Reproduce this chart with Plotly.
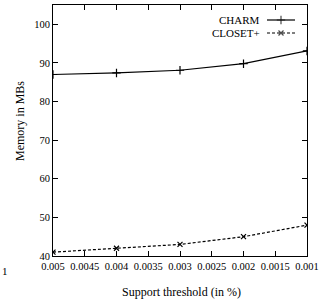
import plotly.graph_objects as go

support = [0.005, 0.004, 0.003, 0.002, 0.001]
charm = [87.0, 87.4, 88.1, 89.8, 93.1]
closet = [41.0, 42.0, 43.0, 45.0, 48.0]
x_ticks = [0.005, 0.0045, 0.004, 0.0035, 0.003, 0.0025, 0.002, 0.0015, 0.001]
x_ticktext = ["0.005", "0.0045", "0.004", "0.0035", "0.003", "0.0025", "0.002", "0.0015", "0.001"]
y_ticks = [40, 50, 60, 70, 80, 90, 100]

FONT = "Liberation Serif"
W, H = 334, 303
L, R, T, B = 53, 27, 5, 47
pw, ph = W - L - R, H - T - B

def px(x):
    return (x - L) / pw

def py(y):
    return 1 - (y - T) / ph

fig = go.Figure()
fig.add_trace(go.Scatter(x=support, y=charm, mode="lines+markers", name="CHARM",
                         line=dict(color="black", width=1.2),
                         marker=dict(symbol="cross-thin", size=6, line=dict(color="black", width=1.2)),
                         showlegend=False))
fig.add_trace(go.Scatter(x=support, y=closet, mode="lines+markers", name="CLOSET+",
                         line=dict(color="black", width=1.2, dash="3px,2px"),
                         marker=dict(symbol="x-thin", size=5, line=dict(color="black", width=1.2)),
                         showlegend=False))

# custom legend samples (symbol right of text) on an overlay axis
legend_items = [("CHARM", "solid", "cross-thin", 6, 20), ("CLOSET+", "3px,2px", "x-thin", 5, 33)]
for name, dash, sym, sz, ypix in legend_items:
    fig.add_trace(go.Scatter(x=[px(267), px(281), px(295)], y=[py(ypix)] * 3,
                             xaxis="x2", yaxis="y2", mode="lines+markers",
                             line=dict(color="black", width=1.2, dash=dash),
                             marker=dict(symbol=sym, size=[0, sz, 0], line=dict(color="black", width=1.2)),
                             showlegend=False, hoverinfo="skip"))
    fig.add_annotation(x=px(262), y=py(ypix), xref="paper", yref="paper", text=name,
                       showarrow=False, xanchor="right", yanchor="middle",
                       font=dict(family=FONT, size=11, color="black"))

fig.add_annotation(x=px(20), y=py(121), xref="paper", yref="paper", text="Memory in MBs",
                   textangle=-90, showarrow=False, xanchor="center", yanchor="middle",
                   font=dict(family=FONT, size=12, color="black"))
fig.add_annotation(x=px(181), y=py(292), xref="paper", yref="paper", text="Support threshold (in %)",
                   showarrow=False, xanchor="center", yanchor="middle",
                   font=dict(family=FONT, size=12, color="black"))
fig.add_annotation(x=px(0), y=py(271), xref="paper", yref="paper", text="1",
                   showarrow=False, xanchor="left", yanchor="middle",
                   font=dict(family=FONT, size=11, color="black"))

axis_common = dict(showgrid=False, zeroline=False, showline=True, linecolor="black", linewidth=1,
                   mirror="ticks", ticks="inside", ticklen=5, tickcolor="black", tickwidth=1,
                   tickfont=dict(family=FONT, size=10.5, color="black"))

fig.update_layout(
    width=W, height=H, margin=dict(l=L, r=R, t=T, b=B),
    paper_bgcolor="white", plot_bgcolor="white",
    xaxis=dict(range=[0.005, 0.001], tickvals=x_ticks, ticktext=x_ticktext, **axis_common),
    yaxis=dict(range=[40, 105], tickvals=y_ticks, **axis_common),
    xaxis2=dict(overlaying="x", range=[0, 1], visible=False),
    yaxis2=dict(overlaying="y", range=[0, 1], visible=False),
)
fig.write_html("out.html", config={"displayModeBar": False},
               post_script="document.body.style.margin='0';")
